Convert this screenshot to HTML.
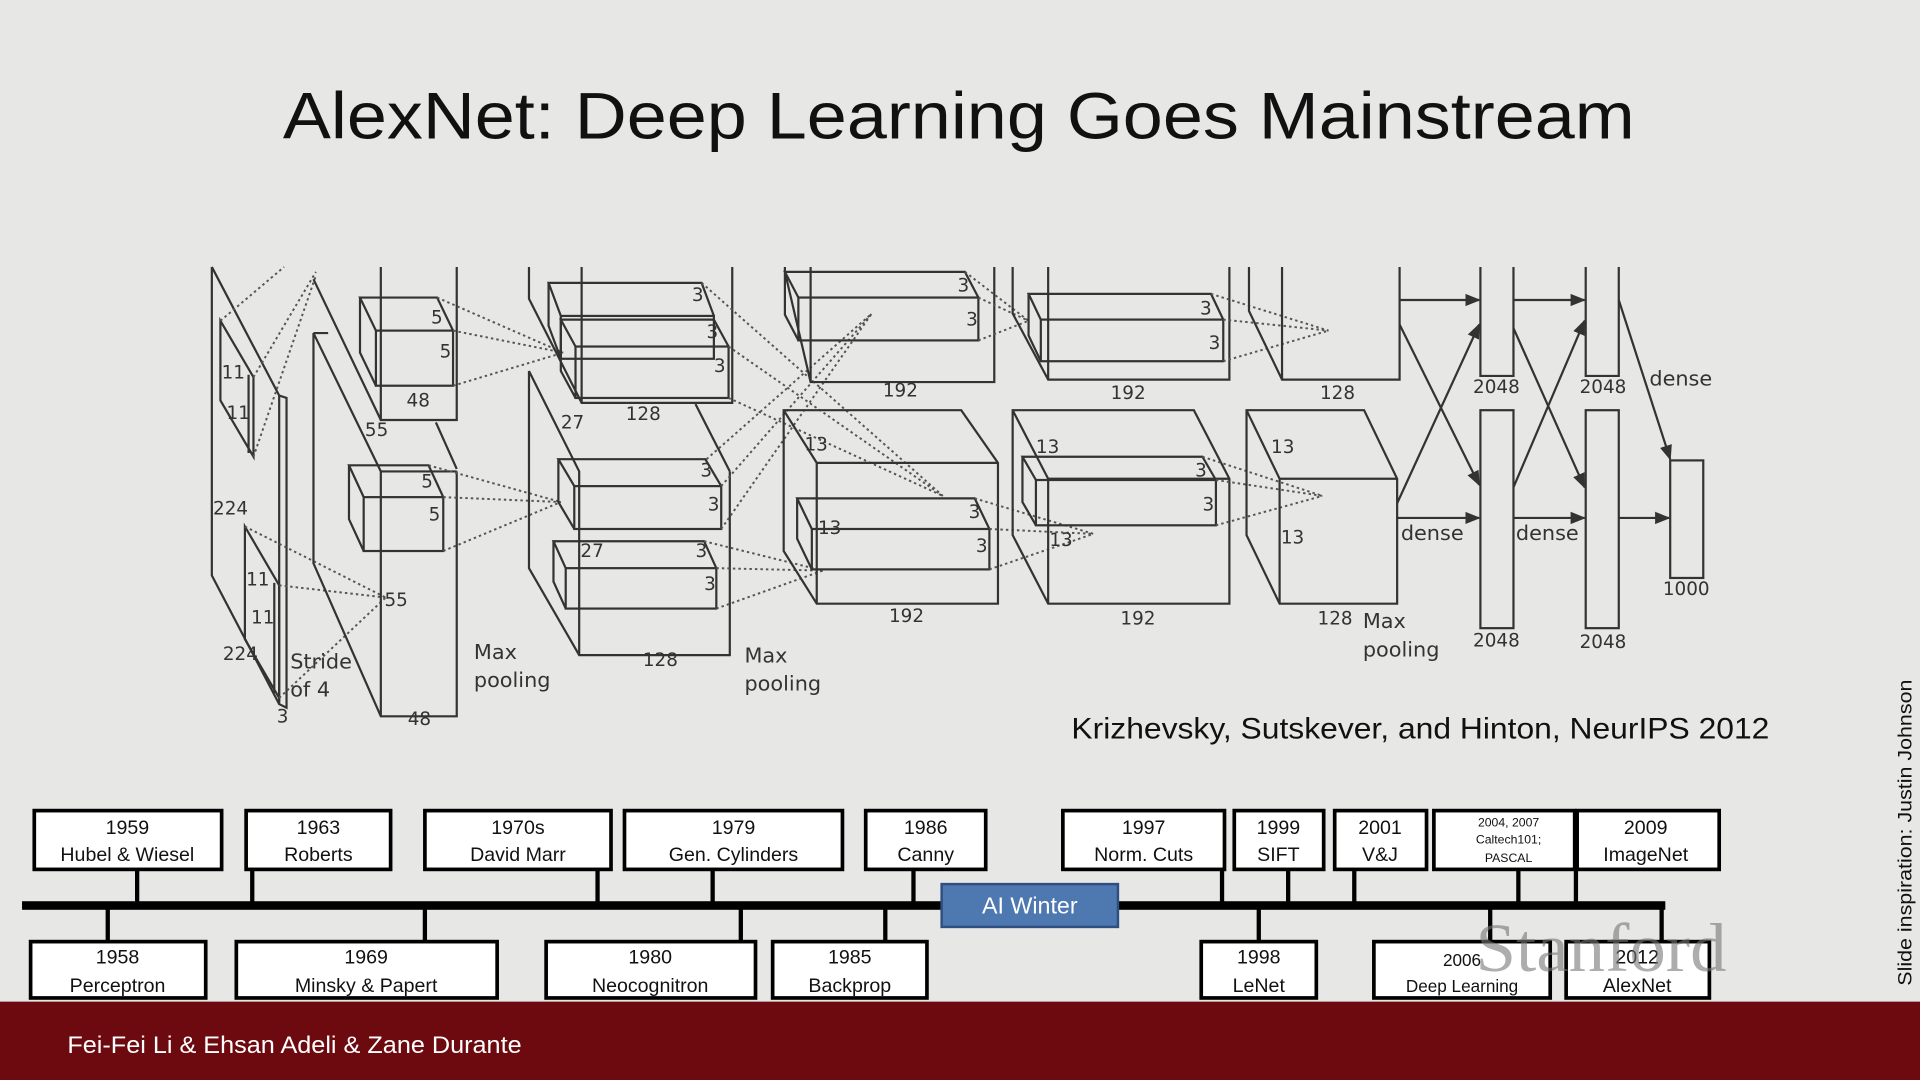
<!DOCTYPE html>
<html><head><meta charset="utf-8"><style>
html,body{margin:0;padding:0;background:#e7e7e5;}
svg{display:block}
.l{fill:none;stroke:#333;stroke-width:1.8}
.d{fill:none;stroke:#555;stroke-width:1.6;stroke-dasharray:2 2.5}
.t{font-family:"DejaVu Sans","Liberation Sans",sans-serif;font-size:15px;fill:#333}
.b{fill:#fff;stroke:#000;stroke-width:3}
.y{font-family:"Liberation Sans",sans-serif;font-size:16px;fill:#111;text-anchor:middle}
.k{stroke:#000;stroke-width:3.5}
</style></head><body>
<svg width="1920" height="1080" viewBox="0 0 1568 882" preserveAspectRatio="none" xmlns="http://www.w3.org/2000/svg">
<defs><marker id="a" viewBox="0 0 10 10" refX="9" refY="5" markerWidth="7" markerHeight="7" orient="auto"><path d="M0,1 L10,5 L0,9 Z" fill="#333"/></marker></defs>
<rect width="1568" height="882" fill="#e7e7e5"/>
<text x="783" y="113" text-anchor="middle" font-family="Liberation Sans,sans-serif" font-size="54" fill="#111" textLength="1104" lengthAdjust="spacingAndGlyphs">AlexNet: Deep Learning Goes Mainstream</text>

<path class="l" d="M173,218 L173,470 L228,575 M173,218 L228,323 L228,575 L234,578 L234,325 L228,323"/>
<path class="l" d="M180,262 L207,308 L207,373 L180,327 Z M203,306 L203,370"/>
<path class="l" d="M200,430 L228,478 L228,570 L200,522 Z M224,476 L224,566"/>
<path class="d" d="M180,262 L232,218 M207,308 L258,222 M207,373 L258,225 M200,430 L315,488 M228,478 L315,488 M228,570 L315,488"/>
<path class="l" d="M311,218 L311,343 L373,343 L373,218 M256,228 L311,343 M256,272 L268,272 M256,272 L256,460 L311,585 L373,585 L373,385 M256,272 L311,385 L311,585 M311,385 L373,385 M356,345 L373,383"/>
<rect class="l" x="307" y="270" width="63" height="45"/><path class="l" d="M307,270 L294,243 L357,243 L370,270 M294,243 L294,288 L307,315"/>
<rect class="l" x="297" y="406" width="65" height="44"/><path class="l" d="M297,406 L285,380 L350,380 L362,406 M285,380 L285,424 L297,450"/>
<path class="d" d="M357,243 L460,288 M370,270 L460,288 M370,315 L460,288 M350,380 L458,410 M362,406 L458,410 M362,450 L458,410"/>
<path class="l" d="M432,218 L432,244 L475,329 L598,329 L598,218 M475,218 L475,329"/>
<path class="l" d="M432,303 L432,464 L473,535 L596,535 L596,385 M432,303 L473,385 L473,535 M568,330 L596,385"/>
<rect class="l" x="458" y="258" width="125" height="35"/><path class="l" d="M458,258 L448,231 L573,231 L583,258 M448,231 L448,266 L458,293"/>
<rect class="l" x="470" y="283" width="125" height="42"/><path class="l" d="M470,283 L458,261 L583,261 L595,283 M458,261 L458,303 L470,325"/>
<rect class="l" x="469" y="397" width="120" height="35"/><path class="l" d="M469,397 L456,375 L576,375 L589,397 M456,375 L456,410 L469,432"/>
<rect class="l" x="462" y="464" width="123" height="33"/><path class="l" d="M462,464 L452,442 L575,442 L585,464 M452,442 L452,475 L462,497"/>
<path class="d" d="M573,231 L770,405 M595,283 L770,405 M595,325 L770,405 M577,375 L712,256 M589,397 L712,256 M589,432 L712,256 M575,442 L672,466 M585,464 L672,466 M585,497 L672,466"/>
<path class="l" d="M641,218 L641,222 L662,312 L812,312 L812,218 M662,218 L662,312"/>
<path class="l" d="M640,335 L785,335 L815,378 L815,493 L667,493 L640,450 Z M640,335 L667,378 L667,493 M667,378 L815,378"/>
<rect class="l" x="652" y="243" width="147" height="35"/><path class="l" d="M652,243 L641,222 L788,222 L799,243 M641,222 L641,257 L652,278"/>
<rect class="l" x="663" y="432" width="145" height="33"/><path class="l" d="M663,432 L651,407 L796,407 L808,432 M651,407 L651,440 L663,465"/>
<path class="d" d="M788,222 L840,262 M799,243 L840,262 M799,278 L840,262 M796,407 L893,436 M808,432 L893,436 M808,465 L893,436"/>
<path class="l" d="M827,218 L827,256 L856,310 L1004,310 L1004,218 M856,218 L856,310"/>
<path class="l" d="M827,335 L975,335 L1004,391 L1004,493 L856,493 L827,437 Z M827,335 L856,391 L856,493 M856,391 L1004,391"/>
<rect class="l" x="850" y="261" width="149" height="34"/><path class="l" d="M850,261 L840,240 L989,240 L999,261 M840,240 L840,274 L850,295"/>
<rect class="l" x="846" y="392" width="147" height="37"/><path class="l" d="M846,392 L835,373 L982,373 L993,392 M835,373 L835,410 L846,429"/>
<path class="d" d="M989,240 L1085,270 M999,261 L1085,270 M999,295 L1085,270 M982,373 L1080,405 M993,392 L1080,405 M993,429 L1080,405"/>
<path class="l" d="M1020,218 L1020,254 L1047,310 L1143,310 L1143,218 M1047,218 L1047,310"/>
<path class="l" d="M1018,335 L1114,335 L1141,391 L1141,493 L1045,493 L1018,437 Z M1018,335 L1045,391 L1045,493 M1045,391 L1141,391"/>
<path class="l" d="M1209,218 L1209,307 L1236,307 L1236,218 M1295,218 L1295,307 L1322,307 L1322,218"/>
<rect class="l" x="1209" y="335" width="27" height="178"/><rect class="l" x="1295" y="335" width="27" height="178"/><rect class="l" x="1364" y="376" width="27" height="96"/>
<g class="l" marker-end="url(#a)">
<path d="M1143,245 L1208,245"/><path d="M1236,245 L1294,245"/><path d="M1141,423 L1208,423"/><path d="M1236,423 L1294,423"/><path d="M1322,423 L1363,423"/>
<path d="M1143,265 L1208,396"/><path d="M1141,411 L1208,265"/><path d="M1236,268 L1294,398"/><path d="M1236,398 L1294,262"/><path d="M1322,245 L1364,375"/>
</g>
<g class="t">
<text x="181" y="309">11</text><text x="185" y="342">11</text><text x="174" y="420">224</text><text x="201" y="478">11</text><text x="205" y="509">11</text><text x="182" y="539">224</text>
<text x="237" y="546" font-size="17">Stride</text><text x="237" y="569" font-size="17">of 4</text><text x="226" y="590">3</text>
<text x="352" y="264">5</text><text x="359" y="292">5</text><text x="344" y="398">5</text><text x="350" y="425">5</text>
<text x="332" y="332">48</text><text x="298" y="356">55</text><text x="314" y="495">55</text><text x="333" y="592">48</text>
<text x="387" y="538" font-size="17">Max</text><text x="387" y="561" font-size="17">pooling</text>
<text x="565" y="246">3</text><text x="577" y="276">3</text><text x="583" y="304">3</text><text x="458" y="350">27</text><text x="511" y="343">128</text>
<text x="572" y="389">3</text><text x="578" y="417">3</text><text x="474" y="455">27</text><text x="568" y="455">3</text><text x="575" y="482">3</text><text x="525" y="544">128</text>
<text x="608" y="541" font-size="17">Max</text><text x="608" y="564" font-size="17">pooling</text>
<text x="782" y="238">3</text><text x="789" y="266">3</text><text x="721" y="324">192</text><text x="657" y="368">13</text><text x="668" y="436">13</text><text x="791" y="423">3</text><text x="797" y="451">3</text><text x="726" y="508">192</text>
<text x="980" y="257">3</text><text x="987" y="285">3</text><text x="907" y="326">192</text><text x="846" y="370">13</text><text x="976" y="389">3</text><text x="982" y="417">3</text><text x="857" y="446">13</text><text x="915" y="510">192</text>
<text x="1078" y="326">128</text><text x="1038" y="370">13</text><text x="1046" y="444">13</text><text x="1076" y="510">128</text>
<text x="1113" y="513" font-size="17">Max</text><text x="1113" y="536" font-size="17">pooling</text>
<text x="1203" y="321">2048</text><text x="1290" y="321">2048</text><text x="1203" y="528">2048</text><text x="1290" y="529">2048</text><text x="1358" y="486">1000</text>
<text x="1144" y="441" font-size="17">dense</text><text x="1238" y="441" font-size="17">dense</text><text x="1347" y="315" font-size="17">dense</text>
</g>
<text x="875" y="603" font-family="Liberation Sans,sans-serif" font-size="24" fill="#111" textLength="570" lengthAdjust="spacingAndGlyphs">Krizhevsky, Sutskever, and Hinton, NeurIPS 2012</text>

<g class="k">
<line x1="112" y1="710" x2="112" y2="739"/><line x1="206" y1="710" x2="206" y2="739"/><line x1="488" y1="710" x2="488" y2="739"/><line x1="582" y1="710" x2="582" y2="739"/><line x1="746" y1="710" x2="746" y2="739"/><line x1="998" y1="710" x2="998" y2="739"/><line x1="1052" y1="710" x2="1052" y2="739"/><line x1="1106" y1="710" x2="1106" y2="739"/><line x1="1240" y1="710" x2="1240" y2="739"/><line x1="1287" y1="710" x2="1287" y2="739"/>
<line x1="88" y1="739" x2="88" y2="769"/><line x1="347" y1="739" x2="347" y2="769"/><line x1="605" y1="739" x2="605" y2="769"/><line x1="723" y1="739" x2="723" y2="769"/><line x1="1028" y1="739" x2="1028" y2="769"/><line x1="1217" y1="739" x2="1217" y2="769"/><line x1="1357" y1="739" x2="1357" y2="769"/>
</g>
<rect x="18" y="736" width="1342" height="7" fill="#000"/>
<g>
<rect class="b" x="28" y="662" width="153" height="48"/><rect class="b" x="201" y="662" width="118" height="48"/><rect class="b" x="347" y="662" width="152" height="48"/><rect class="b" x="510" y="662" width="178" height="48"/><rect class="b" x="707" y="662" width="98" height="48"/><rect class="b" x="868" y="662" width="132" height="48"/><rect class="b" x="1008" y="662" width="73" height="48"/><rect class="b" x="1090" y="662" width="75" height="48"/><rect class="b" x="1171" y="662" width="115" height="48"/><rect class="b" x="1288" y="662" width="116" height="48"/>
<rect class="b" x="25" y="769" width="143" height="46"/><rect class="b" x="193" y="769" width="213" height="46"/><rect class="b" x="446" y="769" width="171" height="46"/><rect class="b" x="631" y="769" width="126" height="46"/><rect class="b" x="981" y="769" width="94" height="46"/><rect class="b" x="1122" y="769" width="144" height="46"/><rect class="b" x="1279" y="769" width="117" height="46"/>
</g>
<g class="y">
<text x="104" y="681">1959</text><text x="104" y="703">Hubel &amp; Wiesel</text>
<text x="260" y="681">1963</text><text x="260" y="703">Roberts</text>
<text x="423" y="681">1970s</text><text x="423" y="703">David Marr</text>
<text x="599" y="681">1979</text><text x="599" y="703">Gen. Cylinders</text>
<text x="756" y="681">1986</text><text x="756" y="703">Canny</text>
<text x="934" y="681">1997</text><text x="934" y="703">Norm. Cuts</text>
<text x="1044" y="681">1999</text><text x="1044" y="703">SIFT</text>
<text x="1127" y="681">2001</text><text x="1127" y="703">V&amp;J</text>
<text x="1232" y="675" font-size="10">2004, 2007</text><text x="1232" y="689" font-size="10">Caltech101;</text><text x="1232" y="704" font-size="10">PASCAL</text>
<text x="1344" y="681">2009</text><text x="1344" y="703">ImageNet</text>
<text x="96" y="787">1958</text><text x="96" y="810">Perceptron</text>
<text x="299" y="787">1969</text><text x="299" y="810">Minsky &amp; Papert</text>
<text x="531" y="787">1980</text><text x="531" y="810">Neocognitron</text>
<text x="694" y="787">1985</text><text x="694" y="810">Backprop</text>
<text x="1028" y="787">1998</text><text x="1028" y="810">LeNet</text>
<text x="1194" y="789" font-size="14">2006</text><text x="1194" y="810" font-size="14">Deep Learning</text>
<text x="1337" y="787">2012</text><text x="1337" y="810">AlexNet</text>
</g>
<text x="1205" y="793" font-family="Liberation Serif,serif" font-size="56" fill="#777" fill-opacity="0.6" textLength="205" lengthAdjust="spacingAndGlyphs">Stanford</text>
<rect x="769" y="722" width="144" height="35" fill="#4e78b0" stroke="#2e4f80" stroke-width="2"/>
<text x="841" y="746" text-anchor="middle" font-family="Liberation Sans,sans-serif" font-size="19" fill="#fff">AI Winter</text>
<text transform="translate(1561,805) rotate(-90)" font-family="Liberation Sans,sans-serif" font-size="16" fill="#111" textLength="250" lengthAdjust="spacingAndGlyphs">Slide inspiration: Justin Johnson</text>
<rect x="0" y="818" width="1568" height="64" fill="#6c0a10"/>
<text x="55" y="860" font-family="Liberation Sans,sans-serif" font-size="20" fill="#fff" textLength="371" lengthAdjust="spacingAndGlyphs">Fei-Fei Li &amp; Ehsan Adeli &amp; Zane Durante</text>
</svg>
</body></html>
